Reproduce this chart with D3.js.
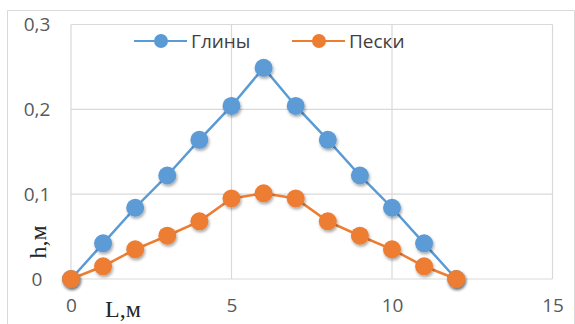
<!DOCTYPE html>
<html><head><meta charset="utf-8">
<script src="https://cdn.jsdelivr.net/npm/d3@7"></script>
<style>body{margin:0;background:#fff}svg{display:block}</style>
</head><body>
<script>
const L = [0,1,2,3,4,5,6,7,8,9,10,11,12];
const glinyValues = [0,0.042,0.084,0.122,0.164,0.204,0.249,0.204,0.164,0.122,0.084,0.042,0];
const peskiValues = [0,0.015,0.035,0.051,0.068,0.095,0.101,0.095,0.068,0.051,0.035,0.015,0];
const seriesNames = ["Глины","Пески"];
const xTicks = [0,5,10,15];
const yTicks = [0,0.1,0.2,0.3];
const yTickLabels = ["0","0,1","0,2","0,3"];
const colors = ["#5B9BD5","#ED7D31"];

const W=575,H=324;
const svg=d3.select("body").append("svg").attr("width",W).attr("height",H);
const defs=svg.append("defs");
const f=defs.append("filter").attr("id","sh").attr("x","-50%").attr("y","-50%").attr("width","200%").attr("height","200%");
f.append("feDropShadow").attr("dx",1).attr("dy",2).attr("stdDeviation",1.6).attr("flood-color","#000").attr("flood-opacity",0.35);

svg.append("path").attr("d","M7.5,324 V10.5 H574.5 V324").attr("fill","none").attr("stroke","#d9d9d9").attr("stroke-width",1);

const x=d3.scaleLinear().domain([0,15]).range([71,552.5]);
const y=d3.scaleLinear().domain([0,0.3]).range([279,24.5]);

const g=svg.append("g");
g.selectAll(".hg").data(yTicks).join("line")
 .attr("x1",x(0)).attr("x2",x(15)).attr("y1",d=>y(d)).attr("y2",d=>y(d))
 .attr("stroke","#d9d9d9").attr("stroke-width",1.2);
g.selectAll(".vg").data(xTicks).join("line")
 .attr("y1",y(0)).attr("y2",y(0.3)).attr("x1",d=>x(d)).attr("x2",d=>x(d))
 .attr("stroke","#d9d9d9").attr("stroke-width",1.2);

const font="'Open Sans', 'DejaVu Sans', sans-serif";
const yAxis=svg.append("g").attr("transform",`translate(${x(0)-20},0)`)
 .call(d3.axisLeft(y).tickValues(yTicks).tickFormat((d,i)=>yTickLabels[i]).tickSize(0).tickPadding(0));
yAxis.select(".domain").remove();
yAxis.selectAll("text").attr("font-family",font).attr("font-size",19).attr("fill","#595959").attr("text-anchor","middle").attr("dx",-14);

const xAxis=svg.append("g").attr("transform",`translate(0,${y(0)+19})`)
 .call(d3.axisBottom(x).tickValues(xTicks).tickFormat(d3.format("d")).tickSize(0).tickPadding(0));
xAxis.select(".domain").remove();
xAxis.selectAll("text").attr("font-family",font).attr("font-size",19).attr("fill","#595959");

svg.append("text").attr("transform","translate(46,242) rotate(-90)").attr("text-anchor","middle")
 .attr("font-family","'Liberation Serif', 'DejaVu Serif', serif").attr("font-size",24).attr("fill","#262626").text("h,м");
svg.append("text").attr("x",123).attr("y",317).attr("text-anchor","middle")
 .attr("font-family","'Liberation Serif', 'DejaVu Serif', serif").attr("font-size",24).attr("fill","#262626").text("L,м");

const allSeries=[glinyValues,peskiValues];
const line=d3.line().x((d,i)=>x(L[i])).y(d=>y(d));
allSeries.forEach((vals,si)=>{
  const sg=svg.append("g");
  sg.append("path").datum(vals).attr("d",line).attr("fill","none").attr("stroke",colors[si]).attr("stroke-width",2.5);
  sg.selectAll("circle").data(vals).join("circle")
   .attr("cx",(d,i)=>x(L[i])).attr("cy",d=>y(d)).attr("r",9)
   .attr("fill",colors[si]).attr("filter","url(#sh)");
});

const legX=[134,292];
seriesNames.forEach((n,i)=>{
  const lg=svg.append("g");
  lg.append("line").attr("x1",legX[i]).attr("x2",legX[i]+53).attr("y1",41).attr("y2",41).attr("stroke",colors[i]).attr("stroke-width",2);
  lg.append("circle").attr("cx",legX[i]+27).attr("cy",41).attr("r",7).attr("fill",colors[i]);
  lg.append("text").attr("x",legX[i]+57).attr("y",48).attr("font-family",font).attr("font-size",19).attr("fill","#404040").text(n);
});
</script>
</body></html>
